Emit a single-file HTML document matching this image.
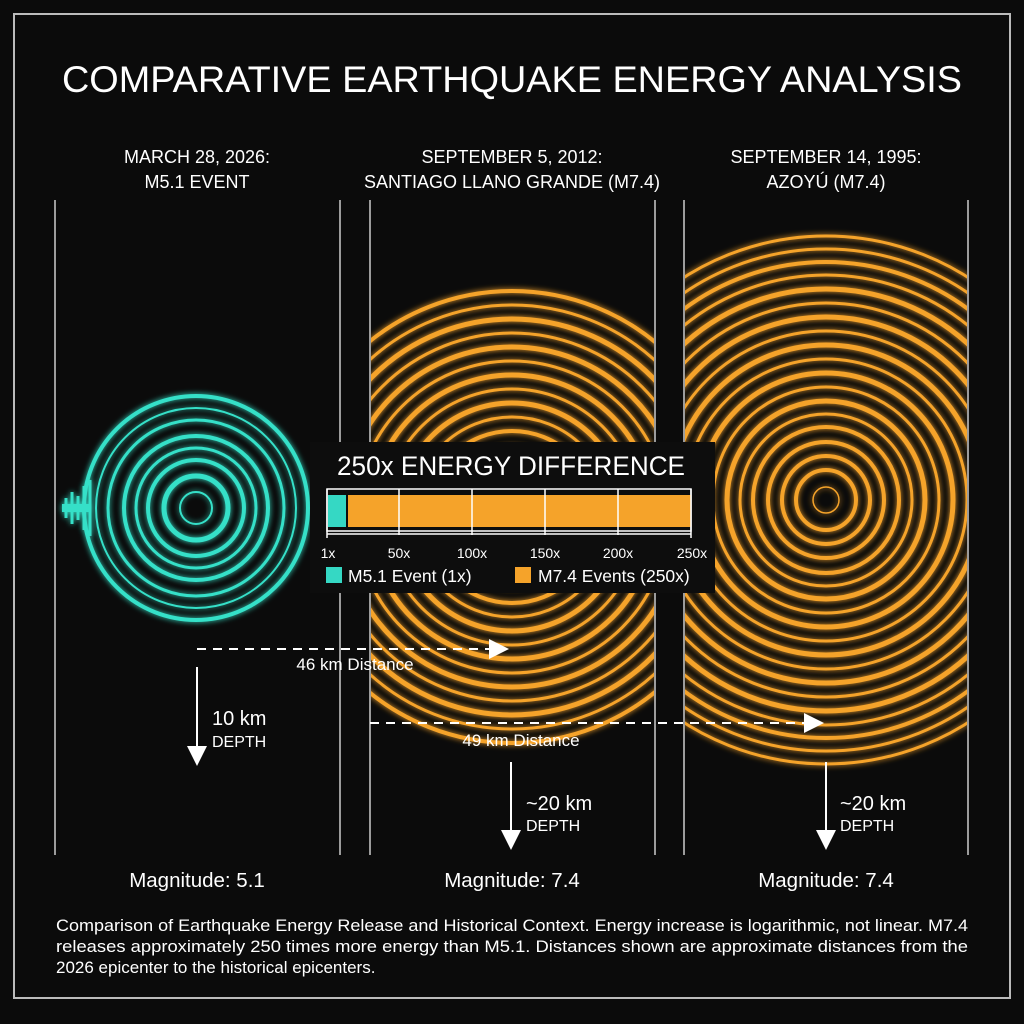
<!DOCTYPE html>
<html><head><meta charset="utf-8"><style>
html,body{margin:0;padding:0;background:#0b0b0b;}
svg{display:block;}
text{font-family:"Liberation Sans",sans-serif;fill:#fff;}
</style></head><body>
<svg width="1024" height="1024" viewBox="0 0 1024 1024" xmlns="http://www.w3.org/2000/svg">
<defs>
<filter id="g" x="-20%" y="-20%" width="140%" height="140%"><feGaussianBlur stdDeviation="3" result="b"/><feMerge><feMergeNode in="b"/><feMergeNode in="SourceGraphic"/></feMerge></filter>
<clipPath id="c2"><rect x="371" y="200" width="283" height="660"/></clipPath>
<clipPath id="c3"><rect x="685" y="200" width="282" height="660"/></clipPath>
<marker id="ar" markerWidth="10" markerHeight="10" refX="8" refY="5" orient="auto"><path d="M0,0 L10,5 L0,10 z" fill="#fff"/></marker>
</defs>
<rect width="1024" height="1024" fill="#0b0b0b"/>
<rect x="14" y="14" width="996" height="984" fill="none" stroke="#bbb" stroke-width="2"/>
<text x="512" y="92" font-size="37" text-anchor="middle" textLength="900" lengthAdjust="spacingAndGlyphs">COMPARATIVE EARTHQUAKE ENERGY ANALYSIS</text>
<g font-size="18" text-anchor="middle">
<text x="197" y="163">MARCH 28, 2026:</text><text x="197" y="188">M5.1 EVENT</text>
<text x="512" y="163">SEPTEMBER 5, 2012:</text><text x="512" y="188">SANTIAGO LLANO GRANDE (M7.4)</text>
<text x="826" y="163">SEPTEMBER 14, 1995:</text><text x="826" y="188">AZOYÚ (M7.4)</text>
</g>
<g stroke="#ccc" stroke-width="1.5">
<line x1="55" y1="200" x2="55" y2="855"/><line x1="340" y1="200" x2="340" y2="855"/>
<line x1="370" y1="200" x2="370" y2="855"/><line x1="655" y1="200" x2="655" y2="855"/>
<line x1="684" y1="200" x2="684" y2="855"/><line x1="968" y1="200" x2="968" y2="855"/>
</g>
<g fill="none" stroke="#35e0c8" filter="url(#g)">
<path d="M62,508 L90,508" stroke-width="8"/>
<path d="M66,498 L66,518 M72,492 L72,524 M78,496 L78,520 M84,486 L84,530 M90,480 L90,536" stroke-width="3"/>
<circle cx="196" cy="508" r="112" stroke-width="4"/>
<circle cx="196" cy="508" r="100" stroke-width="2"/>
<circle cx="196" cy="508" r="88" stroke-width="3"/>
<circle cx="196" cy="508" r="72" stroke-width="4"/>
<circle cx="196" cy="508" r="60" stroke-width="3"/>
<circle cx="196" cy="508" r="48" stroke-width="4"/>
<circle cx="196" cy="508" r="32" stroke-width="5"/>
<circle cx="196" cy="508" r="16" stroke-width="2"/>
</g>
<g clip-path="url(#c2)" fill="none" stroke="#f5a32a" filter="url(#g)">
<circle cx="512" cy="517" r="226" stroke-width="4"/><circle cx="512" cy="517" r="212" stroke-width="3"/>
<circle cx="512" cy="517" r="198" stroke-width="5"/><circle cx="512" cy="517" r="184" stroke-width="3"/>
<circle cx="512" cy="517" r="170" stroke-width="5"/><circle cx="512" cy="517" r="156" stroke-width="3"/>
<circle cx="512" cy="517" r="142" stroke-width="5"/><circle cx="512" cy="517" r="128" stroke-width="3"/>
<circle cx="512" cy="517" r="114" stroke-width="5"/><circle cx="512" cy="517" r="100" stroke-width="3"/>
<circle cx="512" cy="517" r="86" stroke-width="4"/><circle cx="512" cy="517" r="70" stroke-width="4"/>
<circle cx="512" cy="517" r="54" stroke-width="4"/><circle cx="512" cy="517" r="38" stroke-width="4"/>
<circle cx="512" cy="517" r="22" stroke-width="3"/>
</g>
<g clip-path="url(#c3)" fill="none" stroke="#f5a32a" filter="url(#g)">
<circle cx="826" cy="500" r="264" stroke-width="3"/><circle cx="826" cy="500" r="251" stroke-width="3"/>
<circle cx="826" cy="500" r="238" stroke-width="4"/><circle cx="826" cy="500" r="225" stroke-width="3"/>
<circle cx="826" cy="500" r="211" stroke-width="5"/><circle cx="826" cy="500" r="197" stroke-width="3"/>
<circle cx="826" cy="500" r="183" stroke-width="5"/><circle cx="826" cy="500" r="169" stroke-width="3"/>
<circle cx="826" cy="500" r="155" stroke-width="5"/><circle cx="826" cy="500" r="141" stroke-width="3"/>
<circle cx="826" cy="500" r="127" stroke-width="5"/><circle cx="826" cy="500" r="113" stroke-width="3"/>
<circle cx="826" cy="500" r="99" stroke-width="5"/><circle cx="826" cy="500" r="86" stroke-width="3"/>
<circle cx="826" cy="500" r="73" stroke-width="4"/><circle cx="826" cy="500" r="58" stroke-width="4"/>
<circle cx="826" cy="500" r="44" stroke-width="4"/><circle cx="826" cy="500" r="30" stroke-width="4"/>
<circle cx="826" cy="500" r="13" stroke-width="1.5"/>
</g>
<rect x="310" y="442" width="405" height="151" fill="#0d0d0d"/>
<text x="511" y="475" font-size="27" text-anchor="middle" textLength="348" lengthAdjust="spacingAndGlyphs">250x ENERGY DIFFERENCE</text>
<rect x="327" y="489" width="364" height="42" fill="#0d0d0d" stroke="#fff" stroke-width="1.5"/>
<rect x="328" y="495" width="18" height="32" fill="#35d8c4"/>
<rect x="348" y="495" width="343" height="32" fill="#f5a32a"/>
<g stroke="#fff" stroke-width="1.5">
<line x1="327" y1="489" x2="327" y2="538"/><line x1="399" y1="489" x2="399" y2="535"/>
<line x1="472" y1="489" x2="472" y2="535"/><line x1="545" y1="489" x2="545" y2="535"/>
<line x1="618" y1="489" x2="618" y2="535"/><line x1="691" y1="489" x2="691" y2="538"/>
<line x1="327" y1="534" x2="691" y2="534"/>
</g>
<g font-size="14" text-anchor="middle">
<text x="328" y="558">1x</text><text x="399" y="558">50x</text><text x="472" y="558">100x</text>
<text x="545" y="558">150x</text><text x="618" y="558">200x</text><text x="692" y="558">250x</text>
</g>
<rect x="326" y="567" width="16" height="16" fill="#35d8c4"/>
<text x="348" y="582" font-size="17.5">M5.1 Event (1x)</text>
<rect x="515" y="567" width="16" height="16" fill="#f5a32a"/>
<text x="538" y="582" font-size="17.5">M7.4 Events (250x)</text>
<g stroke="#fff" stroke-width="2" fill="none">
<line x1="197" y1="649" x2="505" y2="649" stroke-dasharray="9,7" marker-end="url(#ar)"/>
<line x1="370" y1="723" x2="820" y2="723" stroke-dasharray="9,7" marker-end="url(#ar)"/>
<line x1="197" y1="667" x2="197" y2="762" marker-end="url(#ar)"/>
<line x1="511" y1="762" x2="511" y2="846" marker-end="url(#ar)"/>
<line x1="826" y1="762" x2="826" y2="846" marker-end="url(#ar)"/>
</g>
<text x="355" y="670" font-size="17" text-anchor="middle">46 km Distance</text>
<text x="521" y="746" font-size="17" text-anchor="middle">49 km Distance</text>
<text x="212" y="725" font-size="20">10 km</text><text x="212" y="747" font-size="16">DEPTH</text>
<text x="526" y="810" font-size="20">~20 km</text><text x="526" y="831" font-size="16">DEPTH</text>
<text x="840" y="810" font-size="20">~20 km</text><text x="840" y="831" font-size="16">DEPTH</text>
<g font-size="20.5" text-anchor="middle">
<text x="197" y="887">Magnitude: 5.1</text><text x="512" y="887">Magnitude: 7.4</text><text x="826" y="887">Magnitude: 7.4</text>
</g>
<g font-size="17">
<text x="56" y="931" textLength="912" lengthAdjust="spacingAndGlyphs">Comparison of Earthquake Energy Release and Historical Context. Energy increase is logarithmic, not linear. M7.4</text>
<text x="56" y="952" textLength="912" lengthAdjust="spacingAndGlyphs">releases approximately 250 times more energy than M5.1. Distances shown are approximate distances from the</text>
<text x="56" y="973">2026 epicenter to the historical epicenters.</text>
</g>
</svg>
</body></html>
